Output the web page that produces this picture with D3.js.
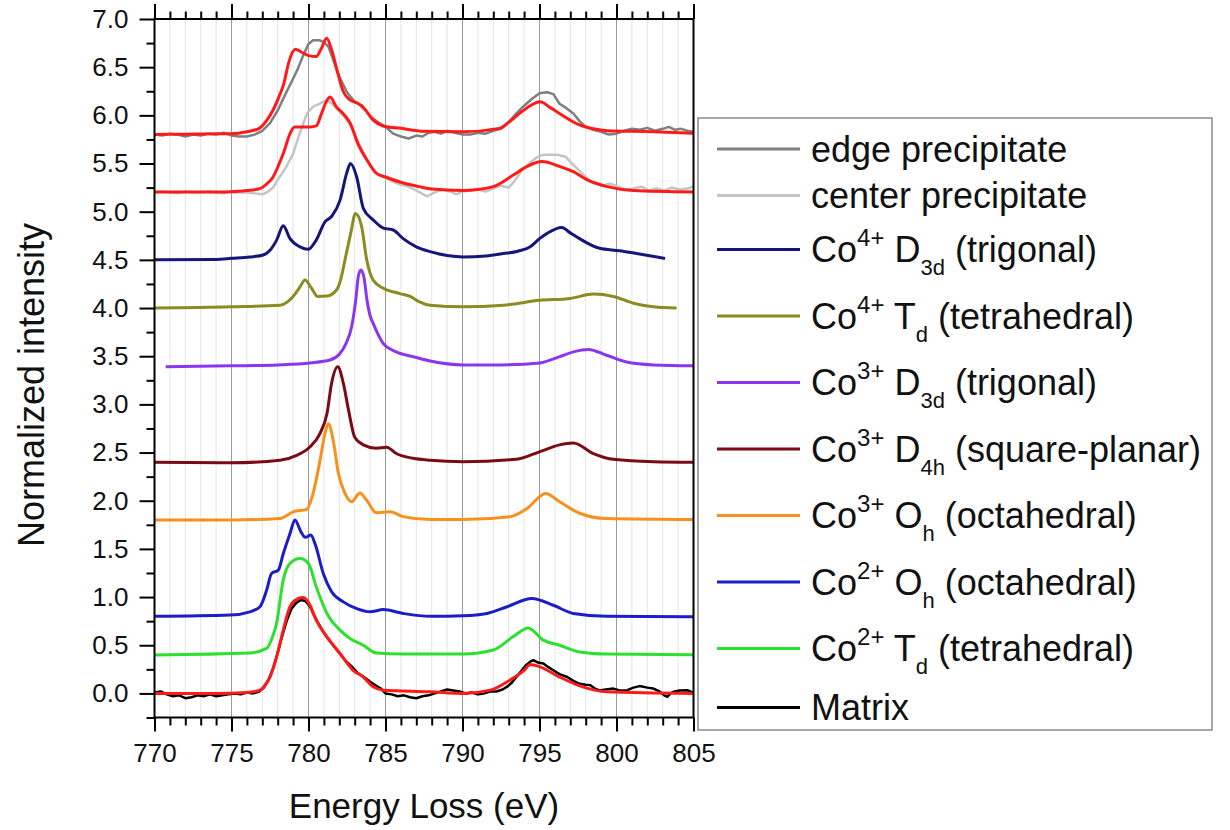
<!DOCTYPE html>
<head>
  <meta charset="utf-8">
  <title>Co L2,3 edge spectra</title>
  <script src="https://d3js.org/d3.v7.min.js"></script>
  <style>
    body { margin: 0; background: #fff; }
    text { font-family: "Liberation Sans", Arial, sans-serif; fill: #111; }
  </style>
</head>
<body>
<svg width="1230" height="830"></svg>
<script>

// ---- data: [energy loss (eV), normalized intensity] ----

var edgePrecipitate = [
  [770,5.80],[770.5,5.79],[771,5.81],[771.5,5.80],[772,5.78],[772.5,5.80],[773,5.79],[773.5,5.81],
  [774,5.80],[774.5,5.82],[775,5.79],[775.5,5.78],[776,5.78],[776.5,5.80],[777,5.84],[777.5,5.92],
  [778,6.05],[778.5,6.22],[779,6.38],[779.3,6.48],[779.6,6.60],[780,6.74],[780.3,6.78],[780.7,6.78],
  [781,6.76],[781.3,6.71],[781.6,6.58],[782,6.40],[782.5,6.24],[783,6.14],[783.5,6.10],[784,5.99],
  [784.5,5.93],[785,5.88],[785.5,5.81],[786,5.78],[786.5,5.76],[787,5.79],[787.4,5.78],[787.8,5.82],
  [788.2,5.83],[788.6,5.81],[789,5.84],[789.5,5.82],[790,5.80],[790.5,5.80],[791,5.82],[791.5,5.81],
  [792,5.84],[792.5,5.86],[793,5.93],[793.5,6.02],[794,6.10],[794.5,6.17],[795,6.23],[795.5,6.24],
  [795.9,6.22],[796.3,6.12],[796.7,6.08],[797.2,6.02],[797.6,5.94],[798,5.88],[798.5,5.85],[799,5.83],
  [799.5,5.80],[800,5.81],[800.5,5.84],[801,5.86],[801.5,5.85],[802,5.87],[802.5,5.84],[803,5.86],
  [803.4,5.88],[803.8,5.85],[804.2,5.86],[804.6,5.84],[805,5.83]
];

var edgeFit = [
  [770,5.80],[772,5.805],[774,5.81],[775,5.81],[776,5.83],[776.8,5.865],[777.3,5.95],[777.7,6.055],
  [778.1,6.20],[778.4,6.33],[778.7,6.54],[779.15,6.685],[779.5,6.66],[780,6.62],[780.5,6.61],
  [780.85,6.70],[781.18,6.80],[781.5,6.68],[781.85,6.47],[782.25,6.25],[782.7,6.16],[783.2,6.125],
  [783.7,6.055],[784.2,5.95],[784.85,5.89],[786,5.865],[787.5,5.835],[790,5.83],[792.4,5.865],
  [793.1,5.94],[793.7,6.02],[794.4,6.10],[795.05,6.14],[795.7,6.08],[796.3,6.02],[797,5.95],
  [797.6,5.90],[798.5,5.86],[799.4,5.84],[802.4,5.83],[805,5.815]
];

var centerPrecipitate = [
  [770,5.20],[770.5,5.21],[771,5.20],[771.5,5.19],[772,5.21],[772.5,5.20],[773,5.20],[773.5,5.21],
  [774,5.20],[774.5,5.19],[775,5.21],[775.5,5.20],[776,5.20],[776.5,5.19],[777,5.18],[777.3,5.20],
  [777.7,5.25],[778,5.33],[778.5,5.45],[779,5.60],[779.4,5.80],[779.9,6.02],[780.3,6.09],[780.7,6.12],
  [781.2,6.16],[781.6,6.11],[782,6.04],[782.4,5.97],[782.8,5.88],[783.3,5.70],[783.8,5.54],[784.4,5.40],
  [785,5.35],[785.5,5.31],[786,5.28],[786.5,5.26],[787,5.22],[787.7,5.16],[788.2,5.20],[788.7,5.23],
  [789.2,5.21],[789.6,5.18],[790,5.21],[790.5,5.22],[791,5.23],[791.5,5.21],[792,5.24],[792.5,5.27],
  [793,5.25],[793.4,5.32],[793.8,5.42],[794.3,5.50],[794.8,5.56],[795.2,5.59],[795.7,5.59],[796.2,5.59],
  [796.7,5.57],[797.1,5.50],[797.5,5.44],[798,5.36],[798.5,5.30],[799,5.27],[799.6,5.29],[800.1,5.26],
  [800.6,5.23],[801.1,5.24],[801.6,5.26],[802.1,5.22],[802.6,5.24],[803.1,5.22],[803.6,5.25],
  [804.1,5.23],[804.6,5.24],[805,5.26]
];

var centerFit = [
  [770,5.205],[774,5.205],[775,5.207],[776,5.22],[776.85,5.24],[777.3,5.29],[777.7,5.36],[778.05,5.48],
  [778.4,5.62],[778.8,5.81],[779.1,5.88],[779.6,5.88],[780.1,5.88],[780.5,5.89],[780.85,6.02],
  [781.15,6.14],[781.4,6.19],[781.8,6.09],[782.35,6.00],[782.7,5.92],[783.2,5.71],[783.8,5.535],
  [784.4,5.40],[785.1,5.355],[786.1,5.30],[787.2,5.26],[788,5.235],[790,5.22],[792,5.26],[793.3,5.38],
  [794.2,5.47],[795.15,5.52],[796.3,5.47],[797.2,5.415],[798.1,5.33],[799.4,5.26],[801.1,5.22],[805,5.205]
];

var co4D3d = [
  [770,4.50],[774,4.505],[775,4.516],[776.2,4.53],[777.06,4.55],[777.5,4.60],[777.93,4.705],
  [778.36,4.855],[778.8,4.72],[779.45,4.635],[779.99,4.61],[780.5,4.705],[781.07,4.895],[781.5,4.95],
  [782.05,5.12],[782.48,5.40],[782.72,5.50],[783.13,5.36],[783.56,5.035],[784.2,4.915],[784.86,4.83],
  [785.5,4.81],[786.15,4.72],[787,4.635],[787.9,4.585],[789,4.545],[790.05,4.53],[791.5,4.54],
  [792.65,4.565],[793.6,4.59],[794.4,4.635],[795,4.72],[795.5,4.775],[796.44,4.835],[797,4.78],
  [797.6,4.72],[798.9,4.62],[800.2,4.595],[801.3,4.565],[803.15,4.515]
];

var co4Td = [
  [770,4.00],[775,4.013],[778.15,4.03],[778.6,4.06],[779,4.12],[779.45,4.22],[779.77,4.29],[780.2,4.205],
  [780.6,4.12],[781.2,4.125],[781.83,4.19],[782.1,4.30],[782.37,4.50],[782.74,4.775],[783.05,4.98],
  [783.45,4.845],[783.78,4.50],[784.2,4.29],[784.86,4.205],[785.94,4.15],[786.6,4.12],[787.2,4.065],
  [787.9,4.03],[790,4.013],[792.65,4.03],[795.03,4.08],[797,4.10],[798.5,4.145],[799.8,4.12],
  [801.1,4.05],[802.4,4.013],[803.9,4.00]
];

var co3D3d = [
  [770.73,3.39],[775,3.40],[778,3.41],[780.1,3.43],[781.4,3.46],[782,3.52],[782.4,3.62],[782.8,3.805],
  [783.08,4.10],[783.23,4.325],[783.4,4.395],[783.6,4.32],[783.8,4.08],[784,3.92],[784.2,3.84],
  [784.86,3.63],[785.7,3.545],[786.8,3.495],[787.9,3.45],[790.05,3.41],[792.5,3.41],[795.03,3.43],
  [796.3,3.495],[797.2,3.545],[798.17,3.57],[799.36,3.51],[800.66,3.44],[802.4,3.41],[805,3.40]
];

var co3D4h = [
  [770,2.40],[775,2.394],[778.15,2.42],[779.23,2.47],[780.1,2.56],[780.75,2.70],[781.2,2.905],
  [781.5,3.22],[781.9,3.39],[782.26,3.22],[782.6,2.94],[783,2.66],[783.56,2.58],[784.4,2.545],
  [785.08,2.555],[785.7,2.49],[786.8,2.44],[787.9,2.42],[790.05,2.405],[793.5,2.43],[795.03,2.51],
  [796.3,2.58],[797.2,2.60],[798.5,2.49],[799.8,2.43],[802.4,2.405],[805,2.40]
];

var co3Oh = [
  [770,1.80],[775,1.80],[778.15,1.815],[779,1.885],[779.88,1.91],[780.3,2.076],[780.75,2.42],
  [781.07,2.70],[781.29,2.80],[781.6,2.63],[781.94,2.285],[782.37,2.076],[782.8,1.99],[783.34,2.08],
  [783.78,2.005],[784.4,1.875],[785.3,1.885],[786.15,1.835],[787.9,1.805],[790.05,1.805],[793.1,1.835],
  [794.2,1.92],[795.4,2.076],[796.3,1.99],[797.6,1.87],[799.36,1.815],[805,1.805]
];

var co2Oh = [
  [770,0.80],[774.9,0.813],[776.2,0.847],[776.85,0.90],[777.28,1.07],[777.6,1.245],[778.04,1.28],
  [778.36,1.45],[778.8,1.66],[779.12,1.80],[779.5,1.68],[779.8,1.62],[780.15,1.645],[780.45,1.54],
  [780.96,1.245],[781.5,1.055],[782.26,0.95],[783.13,0.88],[784,0.847],[784.86,0.87],[786.15,0.83],
  [787.9,0.80],[790.05,0.806],[791.6,0.83],[792.9,0.90],[794.5,0.985],[795.9,0.915],[797.2,0.83],
  [799.36,0.80],[805,0.795]
];

var co2Td = [
  [770,0.40],[776.2,0.42],[777.28,0.467],[777.6,0.56],[777.93,0.73],[778.36,1.176],[778.8,1.35],
  [779.45,1.40],[779.99,1.35],[780.5,1.107],[781.2,0.83],[782.05,0.657],[782.7,0.57],[783.56,0.50],
  [784.4,0.42],[786.15,0.41],[790.05,0.408],[792,0.45],[793.3,0.59],[794.27,0.68],[795.25,0.553],
  [796.3,0.50],[797.6,0.43],[799.36,0.408],[805,0.40]
];

var matrix = [
  [770,0.01],[770.4,0.02],[770.8,-0.01],[771.2,-0.03],[771.6,-0.02],[772,-0.05],[772.4,-0.04],
  [772.8,-0.02],[773.2,-0.03],[773.6,-0.01],[774,-0.03],[774.4,-0.02],[774.8,-0.01],[775.2,0.0],
  [775.6,-0.01],[776,0.01],[776.4,0.0],[776.8,0.02],[777.1,0.06],[777.4,0.14],[777.7,0.26],[778,0.42],
  [778.3,0.60],[778.6,0.76],[778.9,0.88],[779.2,0.94],[779.5,0.97],[779.8,0.96],[780.1,0.90],
  [780.4,0.80],[780.7,0.71],[781,0.63],[781.3,0.56],[781.6,0.50],[782,0.42],[782.4,0.34],[782.8,0.28],
  [783.2,0.21],[783.6,0.17],[784,0.12],[784.4,0.08],[784.7,0.05],[785,0.0],[785.4,-0.01],[785.8,-0.03],
  [786.2,-0.02],[786.6,-0.04],[787,-0.05],[787.4,-0.03],[787.8,-0.02],[788.2,0.0],[788.6,0.02],
  [789,0.04],[789.4,0.03],[789.8,0.02],[790.2,0.0],[790.6,0.01],[791,-0.01],[791.4,0.0],[791.8,0.02],
  [792.2,0.02],[792.6,0.04],[792.9,0.07],[793.2,0.11],[793.5,0.17],[793.8,0.23],[794.1,0.29],
  [794.4,0.33],[794.6,0.345],[794.9,0.32],[795.25,0.31],[795.6,0.27],[795.9,0.24],[796.3,0.20],
  [796.8,0.17],[797.2,0.13],[797.6,0.10],[798,0.09],[798.3,0.086],[798.6,0.05],[798.9,0.03],
  [799.3,0.04],[799.8,0.05],[800.2,0.03],[800.7,0.034],[801.1,0.06],[801.5,0.076],[802,0.06],
  [802.4,0.05],[802.8,0.02],[803.1,-0.02],[803.3,-0.035],[803.5,0.0],[803.7,0.017],[804.1,0.03],
  [804.6,0.034],[805,0.006]
];

var matrixFit = [
  [770,0.0],[774,0.0],[776,0.01],[776.85,0.034],[777.2,0.09],[777.5,0.17],[777.93,0.38],[778.36,0.657],
  [778.8,0.90],[779.34,0.985],[779.66,0.995],[780.1,0.915],[780.5,0.76],[781.2,0.587],[782.05,0.415],
  [782.9,0.24],[783.56,0.17],[784.2,0.068],[784.86,0.034],[787.9,0.017],[790.05,0.0],[791.8,0.034],
  [793.1,0.14],[794,0.24],[794.4,0.30],[795.03,0.276],[796.3,0.17],[797.8,0.068],[799.36,0.017],[805,0.0]
];

// legend labels (^{..} superscript, _{..} subscript)
var legendLabels = [
  "edge precipitate",
  "center precipitate",
  "Co^{4+} D_{3d} (trigonal)",
  "Co^{4+} T_{d} (tetrahedral)",
  "Co^{3+} D_{3d} (trigonal)",
  "Co^{3+} D_{4h} (square-planar)",
  "Co^{3+} O_{h} (octahedral)",
  "Co^{2+} O_{h} (octahedral)",
  "Co^{2+} T_{d} (tetrahedral)",
  "Matrix"
];

// axis ranges and tick values
var xDomain = [770, 805], yDomain = [-0.25, 7];
var xMajorTicks = [770, 775, 780, 785, 790, 795, 800, 805];
var yMajorTicks = [0, 0.5, 1, 1.5, 2, 2.5, 3, 3.5, 4, 4.5, 5, 5.5, 6, 6.5, 7];

// ---- drawing ----

var svg = d3.select("svg");
var plotLeft = 154.5, plotRight = 693.5, plotTop = 19, plotBottom = 717.5;

var x = d3.scaleLinear().domain(xDomain).range([plotLeft, plotRight]);
var y = d3.scaleLinear().domain(yDomain).range([plotBottom, plotTop]);

var xMinorTicks = d3.range(771, 805, 1).filter(function(d) { return d % 5 !== 0; });
var yMinorTicks = d3.range(-0.25, 7, 0.5);

// faint 1 eV grid and darker 5 eV grid
svg.append("g").selectAll("line").data(xMinorTicks).join("line")
    .attr("x1", x).attr("x2", x).attr("y1", plotTop).attr("y2", plotBottom)
    .attr("stroke", "#e4e4e4").attr("stroke-width", 1);
svg.append("g").selectAll("line").data(xMajorTicks.slice(1, -1)).join("line")
    .attr("x1", x).attr("x2", x).attr("y1", plotTop).attr("y2", plotBottom)
    .attr("stroke", "#9a9a9a").attr("stroke-width", 1);

// which series to draw, in drawing order, and how
var series = [
  {data: edgePrecipitate,   color: "#7f7f7f", width: 2.5, noisy: true},
  {data: edgeFit,           color: "#ff1a1a", width: 3},
  {data: centerPrecipitate, color: "#c4c4c4", width: 2.5, noisy: true},
  {data: centerFit,         color: "#ff1a1a", width: 3},
  {data: co4D3d,            color: "#16167a", width: 3},
  {data: co4Td,             color: "#8b8b1f", width: 3},
  {data: co3D3d,            color: "#8a36ee", width: 3},
  {data: co3D4h,            color: "#7a0a14", width: 3},
  {data: co3Oh,             color: "#f8901e", width: 3},
  {data: co2Oh,             color: "#1c1cc8", width: 3},
  {data: co2Td,             color: "#2ee02e", width: 3},
  {data: matrix,            color: "#000000", width: 2.5, noisy: true},
  {data: matrixFit,         color: "#ff1a1a", width: 3}
];

var smoothLine = d3.line().x(function(d) { return x(d[0]); }).y(function(d) { return y(d[1]); })
    .curve(d3.curveMonotoneX);
var noisyLine = d3.line().x(function(d) { return x(d[0]); }).y(function(d) { return y(d[1]); });

svg.append("g").selectAll("path").data(series).join("path")
    .attr("d", function(s) { return s.noisy ? noisyLine(s.data) : smoothLine(s.data); })
    .attr("fill", "none")
    .attr("stroke", function(s) { return s.color; })
    .attr("stroke-width", function(s) { return s.width; })
    .attr("stroke-linejoin", "round");

// axes: major and minor ticks on bottom, top and left
function styleAxis(g) {
  g.select(".domain").remove();
  g.selectAll("line").attr("stroke", "#000").attr("stroke-width", 2);
  g.selectAll("text").attr("font-size", 26).attr("fill", "#111")
    .attr("font-family", "'Liberation Sans', Arial, sans-serif");
}

svg.append("g").attr("transform", "translate(0," + plotBottom + ")")
    .call(d3.axisBottom(x).tickValues(xMinorTicks).tickSize(8).tickFormat(""))
    .call(styleAxis);
svg.append("g").attr("transform", "translate(0," + plotBottom + ")")
    .call(d3.axisBottom(x).tickValues(xMajorTicks).tickSize(14).tickPadding(12).tickFormat(d3.format("d")))
    .call(styleAxis);
svg.append("g").attr("transform", "translate(0," + plotTop + ")")
    .call(d3.axisTop(x).tickValues(xMinorTicks).tickSize(7.5).tickFormat(""))
    .call(styleAxis);
svg.append("g").attr("transform", "translate(0," + plotTop + ")")
    .call(d3.axisTop(x).tickValues(xMajorTicks).tickSize(15).tickFormat(""))
    .call(styleAxis);
svg.append("g").attr("transform", "translate(" + plotLeft + ",0)")
    .call(d3.axisLeft(y).tickValues(yMinorTicks).tickSize(8).tickFormat(""))
    .call(styleAxis);
svg.append("g").attr("transform", "translate(" + plotLeft + ",0)")
    .call(d3.axisLeft(y).tickValues(yMajorTicks).tickSize(15).tickPadding(11).tickFormat(d3.format(".1f")))
    .call(styleAxis);

// frame round the plot
svg.append("rect")
    .attr("x", plotLeft).attr("y", plotTop)
    .attr("width", plotRight - plotLeft).attr("height", plotBottom - plotTop)
    .attr("fill", "none").attr("stroke", "#000").attr("stroke-width", 2);

// axis titles
svg.append("text")
    .attr("x", (plotLeft + plotRight) / 2).attr("y", 818)
    .attr("text-anchor", "middle").attr("font-size", 35)
    .text("Energy Loss (eV)");
svg.append("text")
    .attr("transform", "translate(44,385) rotate(-90)")
    .attr("text-anchor", "middle").attr("font-size", 36)
    .text("Normalized intensity");

// legend
var legendColors = ["#7f7f7f", "#c4c4c4", "#16167a", "#8b8b1f", "#8a36ee", "#7a0a14",
                    "#f8901e", "#1c1cc8", "#2ee02e", "#000000"];

var legend = svg.append("g");
legend.append("rect")
    .attr("x", 698).attr("y", 118).attr("width", 514).attr("height", 612)
    .attr("fill", "#fff").attr("stroke", "#8a8a8a").attr("stroke-width", 1.5);

// rows with sub/superscripts sit further apart than plain rows
function isRich(label) { return label.indexOf("^") >= 0; }
var baselines = [], yPos = 162;
legendLabels.forEach(function(label, i) {
  if (i > 0) {
    var a = isRich(legendLabels[i - 1]), b = isRich(label);
    yPos += a && b ? 66.5 : (a ? 59 : (b ? 54 : 46.4));
  }
  baselines.push(yPos);
});

var rows = legend.selectAll("g.row").data(legendLabels).join("g")
    .attr("class", "row")
    .attr("transform", function(d, i) { return "translate(0," + baselines[i] + ")"; });

rows.append("line")
    .attr("x1", 717).attr("x2", 800).attr("y1", -13).attr("y2", -13)
    .attr("stroke", function(d, i) { return legendColors[i]; })
    .attr("stroke-width", 3);

rows.append("text")
    .attr("x", 811).attr("y", 0).attr("font-size", 36)
    .each(function(label) {
      var t = d3.select(this), shift = 0;
      label.split(/(\^\{[^}]*\}|_\{[^}]*\})/).forEach(function(part) {
        if (part === "") return;
        var target = 0, size = 36, txt = part;
        if (part[0] === "^") { target = -16; size = 24; txt = part.slice(2, -1); }
        else if (part[0] === "_") { target = 13; size = 22; txt = part.slice(2, -1); }
        t.append("tspan").attr("dy", target - shift).attr("font-size", size).text(txt);
        shift = target;
      });
    });

</script>
</body>
</html>
